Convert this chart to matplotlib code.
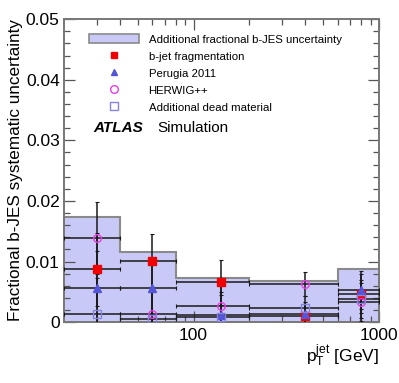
#!/usr/bin/env python3
import matplotlib

matplotlib.use("Agg")
import matplotlib.pyplot as plt
from matplotlib.lines import Line2D
from matplotlib.patches import Patch
from matplotlib.ticker import FixedLocator, FixedFormatter, MultipleLocator, NullFormatter

OUTPUT_PATH = "out.png"

# pT bins (GeV) and bin positions of the points
BIN_EDGES = [20, 40, 80, 200, 600, 1000]
BIN_POINTS = [30, 60, 140, 400, 800]

# additional fractional b-JES uncertainty (band)
BAND = [0.0174, 0.0116, 0.0072, 0.0068, 0.0088]

# individual contributions
FRAGMENTATION = [0.0087, 0.0101, 0.0066, 0.0010, 0.0047]
PERUGIA = [0.0057, 0.0057, 0.0012, 0.0013, 0.0053]
HERWIG = [0.0139, 0.0013, 0.0026, 0.0063, 0.0033]
DEAD_MATERIAL = [0.0013, 0.0005, 0.0008, 0.0023, 0.0038]
STAT_ERR = [0.0060, 0.0045, 0.0037, 0.0020, 0.0032]

LABELS = [
    "Additional fractional b-JES uncertainty",
    "b-jet fragmentation",
    "Perugia 2011",
    "HERWIG++",
    "Additional dead material",
]

BAND_COLOR = "#c9c9f7"
FRAG_COLOR = "#f00000"
PERUGIA_COLOR = "#5555d8"
HERWIG_COLOR = "#e83ce8"
DEAD_COLOR = "#8585e0"

plt.rcParams["font.family"] = ["Liberation Sans", "DejaVu Sans"]
plt.rcParams["mathtext.fontset"] = "custom"
plt.rcParams["mathtext.rm"] = "Liberation Sans"
plt.rcParams["mathtext.it"] = "Liberation Sans:italic"


def main() -> None:
    fig = plt.figure(figsize=(3.99, 3.83), dpi=100)
    ax = fig.add_axes([0.160, 0.159, 0.790, 0.791])

    ax.stairs(BAND, BIN_EDGES, fill=True, color=BAND_COLOR, zorder=1)
    ax.stairs(BAND, BIN_EDGES, color="#8a8a8a", linewidth=1.5, baseline=None, zorder=2)

    lo_err = []
    hi_err = []
    for x, lo, hi in zip(BIN_POINTS, BIN_EDGES[:-1], BIN_EDGES[1:]):
        lo_err.append(x - lo)
        hi_err.append(hi - x)
    xerr = [lo_err, hi_err]

    series = [
        (FRAGMENTATION, dict(marker="s", ms=5.5, mfc=FRAG_COLOR, mec=FRAG_COLOR)),
        (PERUGIA, dict(marker="^", ms=6, mfc=PERUGIA_COLOR, mec=PERUGIA_COLOR)),
        (HERWIG, dict(marker="o", ms=5.5, mfc="none", mec=HERWIG_COLOR, mew=1.0)),
        (DEAD_MATERIAL, dict(marker="s", ms=5.2, mfc="none", mec=DEAD_COLOR, mew=1.0)),
    ]
    for values, style in series:
        ax.errorbar(
            BIN_POINTS,
            values,
            xerr=xerr,
            yerr=STAT_ERR,
            fmt="none",
            ecolor="#1a1a1a",
            elinewidth=1.1,
            capsize=1.5,
            capthick=0.8,
            zorder=3,
        )
    for values, style in series:
        ax.plot(BIN_POINTS, values, linestyle="none", zorder=4, **style)

    ax.set_xscale("log")
    ax.set_xlim(20, 1000)
    ax.set_ylim(0, 0.05)

    ax.xaxis.set_major_locator(FixedLocator([100, 1000]))
    ax.xaxis.set_major_formatter(FixedFormatter(["100", "1000"]))
    minor = [30, 40, 50, 60, 70, 80, 90, 200, 300, 400, 500, 600, 700, 800, 900]
    ax.xaxis.set_minor_locator(FixedLocator(minor))
    ax.xaxis.set_minor_formatter(NullFormatter())
    ax.yaxis.set_major_locator(FixedLocator([0, 0.01, 0.02, 0.03, 0.04, 0.05]))
    ax.yaxis.set_major_formatter(
        FixedFormatter(["0", "0.01", "0.02", "0.03", "0.04", "0.05"])
    )
    ax.yaxis.set_minor_locator(MultipleLocator(0.002))

    ax.tick_params(which="both", direction="in", top=True, right=True,
                   color="#555555", labelsize=12.5)
    ax.tick_params(which="major", length=8, width=0.9)
    ax.tick_params(which="minor", length=4, width=0.9)
    ax.tick_params(axis="x", which="major", pad=4)
    ax.tick_params(axis="y", which="major", pad=3)
    for spine in ax.spines.values():
        spine.set_color("#777777")
        spine.set_linewidth(1.4)

    ax.set_ylabel("Fractional b-JES systematic uncertainty", fontsize=12.3,
                  loc="top", labelpad=2)
    ax.set_xlabel(r"$\mathrm{p}_{\mathrm{T}}^{\mathrm{jet}}$ [GeV]", fontsize=12.5,
                  loc="right", labelpad=0)

    handles = [
        Patch(facecolor=BAND_COLOR, edgecolor="#8a8a8a", linewidth=1.2),
        Line2D([], [], linestyle="none", marker="s", ms=5, color=FRAG_COLOR),
        Line2D([], [], linestyle="none", marker="^", ms=5, color=PERUGIA_COLOR),
        Line2D([], [], linestyle="none", marker="o", ms=5.5, mfc="none",
               mec=HERWIG_COLOR),
        Line2D([], [], linestyle="none", marker="s", ms=5.5, mfc="none",
               mec=DEAD_COLOR),
    ]
    ax.legend(
        handles,
        LABELS,
        loc="upper left",
        bbox_to_anchor=(0.079, 0.951),
        frameon=False,
        fontsize=8.2,
        handlelength=4.4,
        handleheight=0.9,
        handletextpad=0.85,
        labelspacing=0.56,
        borderpad=0,
        borderaxespad=0,
    )

    ax.text(0.092, 0.640, "ATLAS", transform=ax.transAxes, fontsize=11,
            fontweight="bold", fontstyle="italic", va="center")
    ax.text(0.298, 0.640, "Simulation", transform=ax.transAxes, fontsize=11,
            va="center")

    fig.savefig(OUTPUT_PATH, dpi=100)
    plt.close(fig)


if __name__ == "__main__":
    main()
